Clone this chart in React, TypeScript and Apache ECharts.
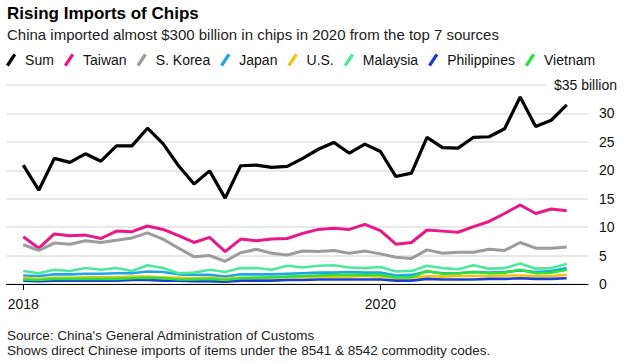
import React, { useEffect, useRef } from 'react';
import * as echarts from 'echarts';

const months = [
  '2018-01', '2018-02', '2018-03', '2018-04', '2018-05', '2018-06', '2018-07', '2018-08', '2018-09', '2018-10', '2018-11', '2018-12',
  '2019-01', '2019-02', '2019-03', '2019-04', '2019-05', '2019-06', '2019-07', '2019-08', '2019-09', '2019-10', '2019-11', '2019-12',
  '2020-01', '2020-02', '2020-03', '2020-04', '2020-05', '2020-06', '2020-07', '2020-08', '2020-09', '2020-10', '2020-11', '2020-12',
];

const tickIndices = [0, 23];
const tickLabels = ['2018', '2020'];

const sum = [20.9, 16.5, 22.1, 21.4, 22.9, 21.6, 24.3, 24.3, 27.4, 24.7, 20.8, 17.6,
  19.9, 15.1, 20.8, 20.9, 20.5, 20.7, 22.1, 23.7, 24.9, 23.0, 24.6, 23.3,
  18.9, 19.5, 25.8, 24.0, 23.9, 25.8, 25.9, 27.3, 32.9, 27.7, 28.8, 31.5];
const taiwan = [8.3, 6.3, 8.8, 8.5, 8.6, 8.0, 9.3, 9.2, 10.2, 9.6, 8.5, 7.3,
  8.2, 5.7, 7.9, 7.6, 7.9, 8.0, 8.9, 9.6, 9.8, 9.6, 10.5, 9.4,
  7.0, 7.3, 9.5, 9.3, 9.1, 10.1, 11.0, 12.4, 13.9, 12.4, 13.2, 12.9];
const korea = [6.9, 5.9, 7.2, 7.0, 7.6, 7.3, 7.7, 8.1, 9.0, 7.9, 6.3, 4.8,
  5.0, 4.0, 5.5, 6.1, 5.4, 5.1, 5.8, 5.7, 5.9, 5.4, 5.8, 5.3,
  4.7, 4.5, 6.0, 5.4, 5.6, 5.6, 6.1, 5.9, 7.3, 6.3, 6.3, 6.5];
const japan = [1.5, 1.4, 1.7, 1.7, 1.8, 1.8, 1.9, 1.9, 2.2, 2.1, 1.7, 1.6,
  1.6, 1.3, 1.7, 1.7, 1.7, 1.8, 1.9, 2.0, 2.0, 2.1, 2.0, 2.0,
  1.5, 1.6, 2.2, 1.9, 1.9, 2.1, 2.0, 2.1, 2.4, 2.1, 2.3, 2.8];
const us = [1.1, 0.9, 1.1, 1.1, 1.2, 1.2, 1.2, 1.3, 1.3, 1.2, 1.1, 1.0,
  1.1, 0.9, 1.1, 1.1, 1.1, 1.2, 1.2, 1.3, 1.3, 1.3, 1.4, 1.3,
  1.1, 1.1, 1.4, 1.3, 1.4, 1.4, 1.4, 1.5, 1.5, 1.4, 1.4, 1.6];
const malaysia = [2.3, 1.9, 2.5, 2.3, 2.8, 2.5, 2.8, 2.3, 3.3, 2.8, 1.9, 2.0,
  2.5, 2.1, 2.8, 2.8, 2.5, 3.2, 2.9, 3.2, 3.3, 2.9, 2.8, 3.0,
  2.2, 2.3, 3.2, 2.8, 2.6, 3.3, 2.7, 2.8, 3.6, 2.7, 2.8, 3.5];
const philippines = [0.6, 0.5, 0.6, 0.6, 0.6, 0.6, 0.6, 0.7, 0.7, 0.6, 0.6, 0.5,
  0.5, 0.4, 0.6, 0.6, 0.6, 0.7, 0.7, 0.8, 0.8, 0.8, 0.8, 0.8,
  0.6, 0.6, 0.9, 0.8, 0.8, 0.8, 0.9, 0.9, 1.0, 0.9, 0.9, 1.0];
const vietnam = [0.8, 0.7, 0.9, 0.9, 0.9, 0.9, 0.9, 1.0, 1.1, 1.0, 0.8, 0.8,
  0.9, 0.7, 1.0, 1.1, 1.2, 1.3, 1.4, 1.5, 1.6, 1.6, 1.6, 1.6,
  1.2, 1.2, 2.3, 1.8, 1.9, 2.1, 1.9, 2.0, 2.5, 1.9, 2.0, 2.5];

const seriesNames = ['Sum', 'Taiwan', 'S. Korea', 'Japan', 'U.S.', 'Malaysia', 'Philippines', 'Vietnam'];
const seriesValues = [sum, taiwan, korea, japan, us, malaysia, philippines, vietnam];
const seriesColors = ['#000000', '#e8178a', '#9c9c9c', '#1ea6e6', '#f4c20d', '#4ee89c', '#1c3fd3', '#2de03c'];
const seriesWidths = [3.2, 3, 3, 2.6, 2.6, 2.6, 2.6, 2.6];

const yTicks = { min: 0, max: 35, interval: 5 };

const FONT = '"Liberation Sans", Arial, sans-serif';

export default function App() {
  const ref = useRef<HTMLDivElement>(null);

  useEffect(() => {
    if (!ref.current) return;
    document.body.style.margin = '0';
    const chart = echarts.init(ref.current, null, { renderer: 'svg' });

    const option: any = {
      animation: false,
      textStyle: { fontFamily: FONT },
      title: [
        {
          text: 'Rising Imports of Chips',
          left: 7,
          top: 5,
          padding: 0,
          textStyle: { fontSize: 17, fontWeight: 'bold', color: '#000', fontFamily: FONT },
        },
        {
          text: 'China imported almost $300 billion in chips in 2020 from the top 7 sources',
          left: 7,
          top: 27,
          padding: 0,
          textStyle: { fontSize: 15, fontWeight: 'normal', color: '#222', fontFamily: FONT },
        },
        {
          text: "Source: China's General Administration of Customs",
          left: 7,
          top: 328,
          padding: 0,
          textStyle: { fontSize: 13.5, fontWeight: 'normal', color: '#222', fontFamily: FONT },
        },
        {
          text: 'Shows direct Chinese imports of items under the 8541 & 8542 commodity codes.',
          left: 7,
          top: 343,
          padding: 0,
          textStyle: { fontSize: 13.5, fontWeight: 'normal', color: '#222', fontFamily: FONT },
        },
      ],
      legend: {
        left: 6,
        top: 53,
        padding: 0,
        itemGap: 10,
        itemWidth: 11,
        itemHeight: 13,
        icon: 'path://M0,12 L8,0 L11,2 L3,14 Z',
        itemStyle: { borderWidth: 0 },
        textStyle: { fontSize: 14, color: '#111', padding: [0, 0, 0, 3.5], fontFamily: FONT },
        data: seriesNames,
      },
      grid: { left: 6.5, right: 36, top: 85, bottom: 79, containLabel: false },
      xAxis: {
        type: 'value',
        min: -1.08,
        max: 36.37,
        splitLine: { show: false },
        axisLine: { show: true, onZero: false, lineStyle: { color: '#000', width: 1.2 } },
        axisTick: { show: true, customValues: tickIndices, length: 6, lineStyle: { color: '#000', width: 1 } },
        axisLabel: {
          customValues: tickIndices,
          margin: 13,
          fontSize: 14,
          color: '#111',
          formatter: (v: number) => {
            const i = tickIndices.indexOf(Math.round(v));
            return i >= 0 ? tickLabels[i] : '';
          },
        },
      },
      yAxis: [
        {
          type: 'value',
          position: 'right',
          min: yTicks.min,
          max: yTicks.max,
          interval: yTicks.interval,
          axisLine: { show: false },
          axisTick: { show: false },
          splitLine: { show: true, lineStyle: { color: '#e1e1e1', width: 1.5 } },
          axisLabel: {
            margin: 11,
            fontSize: 14,
            color: '#111',
            align: 'left',
            formatter: (v: number) => (v === yTicks.max ? '' : String(v)),
          },
        },
        {
          type: 'value',
          position: 'right',
          min: yTicks.min,
          max: yTicks.max,
          interval: yTicks.interval,
          axisLine: { show: false },
          axisTick: { show: false },
          splitLine: { show: false },
          axisLabel: {
            margin: 29,
            fontSize: 14,
            color: '#111',
            align: 'right',
            formatter: (v: number) => (v === yTicks.max ? '{b|$' + v + ' billion}' : ''),
            rich: {
              b: { fontSize: 14, color: '#111', backgroundColor: '#fff', padding: [2, 0, 2, 8], fontFamily: FONT },
            },
          },
        },
      ],
      series: seriesNames.map((name, si) => ({
        name,
        type: 'line',
        yAxisIndex: 0,
        symbol: 'none',
        color: seriesColors[si],
        lineStyle: { color: seriesColors[si], width: seriesWidths[si] },
        z: si === 0 ? 10 : 2,
        data: months.map((_, i) => [i, seriesValues[si][i]]),
      })),
    };

    chart.setOption(option);
    return () => chart.dispose();
  }, []);

  return <div ref={ref} style={{ position: 'absolute', left: 0, top: 0, width: 624, height: 363 }} />;
}
